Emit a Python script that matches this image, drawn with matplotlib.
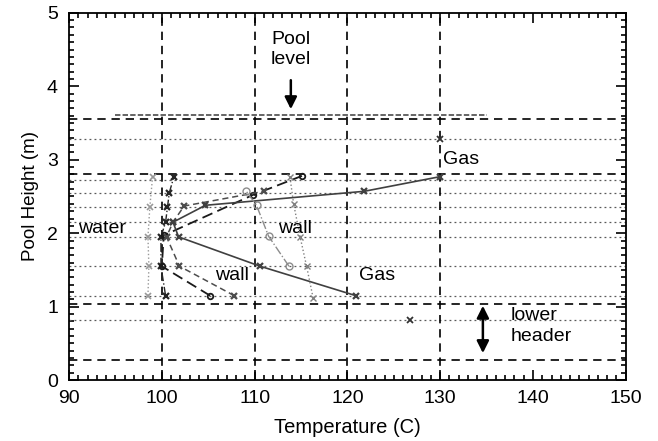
import numpy as np
import matplotlib
matplotlib.use("Agg")
import matplotlib.pyplot as plt
import matplotlib.transforms as mtrans
from matplotlib.ticker import MultipleLocator

plt.rcParams['font.family'] = ['Liberation Sans', 'DejaVu Sans']
plt.rcParams['font.size'] = 14

# sensor heights (m) and reference lines
dashed_heights = [3.56, 2.80, 1.03, 0.28]
dotted_heights = [3.28, 2.73, 2.55, 2.35, 2.15, 1.95, 1.55, 1.15, 0.82]
vline_temps = [100, 110, 120, 130]

# temperature profiles (C) vs height (m)
water_gray_T = [98.5, 98.6, 98.5, 98.7, 99.0]
water_gray_H = [1.15, 1.55, 1.95, 2.35, 2.77]

water_dark_T = [100.4, 99.9, 99.9, 100.4, 100.6, 100.8, 101.3]
water_dark_H = [1.15, 1.55, 1.95, 2.15, 2.35, 2.55, 2.77]

wall_circ_T = [105.2, 100.0, 100.2, 109.8, 115.1]
wall_circ_H = [1.15, 1.55, 1.97, 2.52, 2.78]

wall_x_T = [107.8, 101.9, 100.5, 101.2, 102.4, 111.0]
wall_x_H = [1.15, 1.55, 1.95, 2.15, 2.37, 2.57]

gas_T = [120.9, 110.6, 101.8, 101.2, 104.7, 121.8, 130.0]
gas_H = [1.15, 1.55, 1.95, 2.15, 2.38, 2.57, 2.77]

wall_r1_T = [113.7, 111.5, 110.2, 109.1]
wall_r1_H = [1.55, 1.96, 2.38, 2.57]

wall_r2_T = [116.3, 115.6, 114.9, 114.2, 113.8]
wall_r2_H = [1.12, 1.55, 1.95, 2.40, 2.77]

gas_extra_T = [130.0, 126.7]
gas_extra_H = [3.28, 0.82]

pool_level_T = [95, 135]
pool_level_H = [3.61, 3.61]

fig = plt.figure(figsize=(6.58, 4.41), dpi=100)
ax = fig.add_axes([0.105, 0.138, 0.846, 0.833])

for h in dashed_heights:
    ax.axhline(h, color='black', lw=1.2, dashes=(5, 3.5))
for h in dotted_heights:
    ax.axhline(h, color='0.35', lw=0.9, dashes=(1.5, 2.5))
for t in vline_temps:
    ax.axvline(t, color='black', lw=1.2, dashes=(5, 3.5))

ax.plot(pool_level_T, pool_level_H, color='0.35', lw=1.3, dashes=(3, 1.2))

ax.plot(water_gray_T, water_gray_H, ':', color='0.6', lw=1, marker='x', ms=5, mew=1.2)
ax.plot(water_dark_T, water_dark_H, '-.', color='0.15', lw=1, marker='x', ms=5, mew=1.6)
ax.plot(wall_circ_T, wall_circ_H, color='0.1', lw=1.3, dashes=(6, 3), marker='o', ms=4,
        mfc='none', mew=1.3)
ax.plot(wall_x_T, wall_x_H, color='0.3', lw=1.1, dashes=(4, 2.5), marker='x', ms=5, mew=1.6)
ax.plot(gas_T, gas_H, color='0.25', lw=1.2, marker='x', ms=5, mew=1.6)
ax.plot(wall_r1_T, wall_r1_H, '-.', color='0.55', lw=1, marker='o', ms=5, mfc='none', mew=1)
ax.plot(wall_r2_T, wall_r2_H, ':', color='0.5', lw=1, marker='x', ms=5, mew=1)
ax.plot(gas_extra_T, gas_extra_H, 'x', color='0.2', ms=5, mew=1.3)

ax.text(113.9, 4.5, 'Pool\nlevel', ha='center', va='center', linespacing=1.3)
ax.annotate('', xy=(113.9, 3.65), xytext=(113.9, 4.12),
            arrowprops=dict(arrowstyle='-|>', color='black', lw=1.8, mutation_scale=18))
ax.annotate('', xy=(134.6, 0.33), xytext=(134.6, 1.05),
            arrowprops=dict(arrowstyle='<|-|>', color='black', lw=1.8, mutation_scale=18))
ax.text(137.6, 0.74, 'lower\nheader', ha='left', va='center', linespacing=1.3)
ax.text(93.6, 2.06, 'water', ha='center', va='center')
ax.text(114.4, 2.06, 'wall', ha='center', va='center')
ax.text(107.6, 1.42, 'wall', ha='center', va='center')
ax.text(123.2, 1.42, 'Gas', ha='center', va='center')
ax.text(132.3, 3.0, 'Gas', ha='center', va='center')

ax.set_xlim(90, 150)
ax.set_ylim(0, 5)
ax.xaxis.set_major_locator(MultipleLocator(10))
ax.xaxis.set_minor_locator(MultipleLocator(1))
ax.yaxis.set_major_locator(MultipleLocator(1))
ax.yaxis.set_minor_locator(MultipleLocator(0.1))
ax.tick_params(which='both', direction='in', top=True, right=True, width=1.2)
ax.tick_params(which='major', length=7, labelsize=14)
ax.tick_params(axis='x', which='major', pad=7)
ax.tick_params(axis='y', which='major', pad=8)
ax.tick_params(which='minor', length=3.5)
for s in ax.spines.values():
    s.set_linewidth(1.3)

ax.set_xlabel('Temperature (C)', fontsize=14.5, labelpad=8)
ax.set_ylabel('Pool Height (m)', fontsize=13.5, labelpad=6)

# the "0" label sits a little lower in the original
fig.canvas.draw()
ylabels = ax.get_yticklabels()
ylabels[0].set_transform(ylabels[0].get_transform() +
                         mtrans.ScaledTranslation(0, -5 / 72, fig.dpi_scale_trans))

fig.savefig('out.png', dpi=100)
